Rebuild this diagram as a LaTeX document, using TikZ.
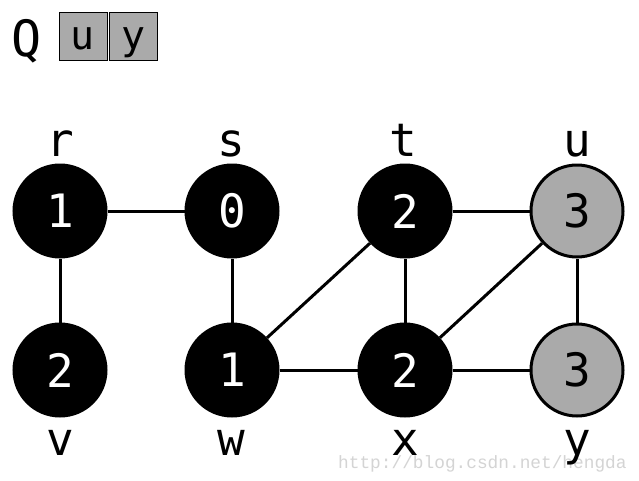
\documentclass[tikz,border=0pt]{standalone}
\usepackage{fontspec}
\setmainfont{DejaVu Sans Mono}
\newfontfamily\wmfont{Liberation Mono}
\definecolor{qgray}{HTML}{AAAAAA}
\definecolor{wmgray}{HTML}{D4D4D4}
\begin{document}
\begin{tikzpicture}[x=1pt,y=-1pt,
  vtx/.style={circle,draw=black,line width=3pt,minimum size=92pt,inner sep=0pt,font=\fontsize{46}{46}\selectfont},
  blk/.style={vtx,fill=black,text=white},
  gry/.style={vtx,fill=qgray,text=black},
  lbl/.style={font=\fontsize{46}{46}\selectfont,inner sep=0pt},
  qbox/.style={draw=black,line width=1pt,fill=qgray,minimum width=48pt,minimum height=48pt,inner sep=0pt},
  edge/.style={line width=3pt}]
\useasboundingbox (0,0) rectangle (639,480);
\fill[white] (0,0) rectangle (639,480);
% watermark
\node[anchor=base west,inner sep=0pt,text=wmgray,font=\wmfont\fontsize{17.8}{18}\selectfont] (wm) at (338,468) {http://blog.csdn.net/hengda};
% queue
\node[lbl,anchor=base,font=\fontsize{50}{50}\selectfont] (Q) at (27,56) {Q};
\node[qbox] (qu) at (83,36.5) {};
\node[qbox] (qy) at (133.5,36.5) {};
\node[anchor=base,inner sep=0pt,font=\fontsize{40}{40}\selectfont] (tu) at (qu.center) [yshift=-13pt] {u};
\node[anchor=base,inner sep=0pt,font=\fontsize{40}{40}\selectfont] (ty) at (qy.center) [yshift=-13pt] {y};
% vertices
\node[blk] (r) at (60,211) {1};
\node[blk] (s) at (232,211) {0};
\node[blk] (t) at (405,211) {2};
\node[gry] (u) at (577,211) {3};
\node[blk] (v) at (60,370) {2};
\node[blk] (w) at (232,370) {1};
\node[blk] (x) at (405,370) {2};
\node[gry] (y) at (577,370) {3};
% edges
\draw[edge] (r) -- (s);
\draw[edge] (r) -- (v);
\draw[edge] (s) -- (w);
\draw[edge] (w) -- (t);
\draw[edge] (w) -- (x);
\draw[edge] (t) -- (x);
\draw[edge] (t) -- (u);
\draw[edge] (x) -- (u);
\draw[edge] (x) -- (y);
\draw[edge] (u) -- (y);
% labels
\node[lbl,anchor=base] (lr) at (60,156) {r};
\node[lbl,anchor=base] (ls) at (231,156) {s};
\node[lbl,anchor=base] (lt) at (403,156) {t};
\node[lbl,anchor=base] (lu) at (577,156) {u};
\node[lbl,anchor=base] (lv) at (60,455) {v};
\node[lbl,anchor=base] (lw) at (231,455) {w};
\node[lbl,anchor=base] (lx) at (405,455) {x};
\node[lbl,anchor=base] (ly) at (577,455) {y};
\end{tikzpicture}
\end{document}
